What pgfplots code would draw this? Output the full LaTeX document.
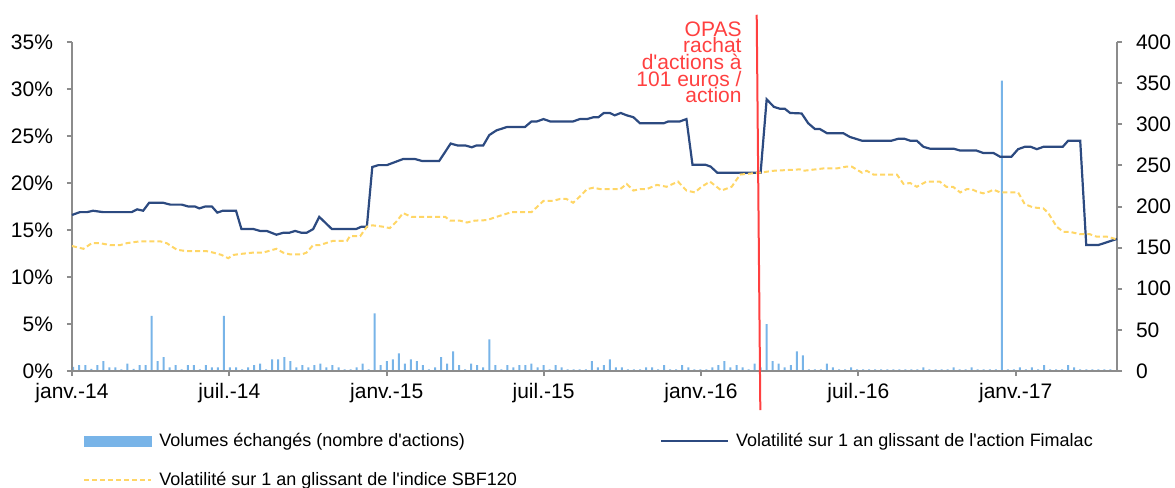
\documentclass[border=0pt]{standalone}
\usepackage{fontspec}
\setmainfont{Liberation Sans}
\usepackage{pgfplots}
\usepackage{pgfplotstable}
\pgfplotsset{compat=1.18}

\definecolor{barblue}{RGB}{120,180,232}
\definecolor{navy}{RGB}{44,74,128}
\definecolor{gold}{RGB}{255,214,102}
\definecolor{annred}{RGB}{255,64,64}
\definecolor{axisgray}{RGB}{140,140,140}

% volumes hebdomadaires (semaine, volume)
\pgfplotstableread[row sep=\\]{
w v\\ 0 5\\ 1 7\\ 2 7\\ 3 2.5\\ 4 7\\ 5 12\\ 6 4.5\\ 7 4.5\\ 8 2\\ 9 9\\
10 2.5\\ 11 7\\ 12 7\\ 13 67\\ 14 12\\ 15 17\\ 16 4.5\\ 17 7\\ 18 2\\ 19 7\\
20 7\\ 21 2\\ 22 7\\ 23 4.5\\ 24 4.5\\ 25 67\\ 26 4.5\\ 27 4.5\\ 28 2\\ 29 4.5\\
30 7\\ 31 9\\ 32 2\\ 33 14\\ 34 14\\ 35 17\\ 36 12\\ 37 4.5\\ 38 7\\ 39 4.5\\
40 7\\ 41 9\\ 42 4.5\\ 43 7\\ 44 4.5\\ 45 2\\ 46 2\\ 47 4.5\\ 48 9\\ 49 2\\
50 70\\ 51 7\\ 52 12\\ 53 14\\ 54 21.5\\ 55 9\\ 56 14\\ 57 12\\ 58 7\\ 59 2\\
60 4.5\\ 61 17\\ 62 9\\ 63 24\\ 64 7\\ 65 2\\ 66 9\\ 67 7\\ 68 4.5\\ 69 38.5\\
70 7\\ 71 2\\ 72 7\\ 73 4.5\\ 74 7\\ 75 7\\ 76 9\\ 77 4.5\\ 78 7\\ 79 2\\
80 7\\ 81 4.5\\ 82 2\\ 83 2\\ 84 2\\ 85 2\\ 86 12\\ 87 4.5\\ 88 7\\ 89 14\\
90 4.5\\ 91 4.5\\ 92 2\\ 93 2\\ 94 2\\ 95 4.5\\ 96 4.5\\ 97 2\\ 98 7\\ 99 2\\
100 2\\ 101 7\\ 102 4.5\\ 103 2\\ 104 2\\ 105 2\\ 106 4.5\\ 107 7\\ 108 12\\ 109 4.5\\
110 7\\ 111 4.5\\ 112 2\\ 113 9\\ 114 4.5\\ 115 57\\ 116 12\\ 117 9\\ 118 4.5\\ 119 7\\
120 24\\ 121 19\\ 122 2\\ 123 2\\ 124 2\\ 125 9\\ 126 4.5\\ 127 2\\ 128 2\\ 129 4.5\\
130 2\\ 131 2\\ 132 2\\ 133 2\\ 134 2\\ 135 2\\ 136 2\\ 137 2\\ 138 2\\ 139 2\\
140 2\\ 141 4.5\\ 142 2\\ 143 2\\ 144 2\\ 145 2\\ 146 4.5\\ 147 2\\ 148 2\\ 149 4.5\\
150 2\\ 151 2\\ 152 2\\ 153 2\\ 154 353\\ 155 2\\ 156 2\\ 157 4.5\\ 158 2\\ 159 4.5\\
160 2\\ 161 7\\ 162 2\\ 163 2\\ 164 2\\ 165 7\\ 166 4.5\\ 167 2\\ 168 2\\ 169 2\\
170 2\\ 171 2\\ 172 2\\
}\volumes

\begin{document}
\begin{tikzpicture}
\pgfplotsset{base/.style={
  width=522.5pt, height=164.5pt, scale only axis,
  xmin=0, xmax=173.3, at={(0,0)}, anchor=south west,
  tick align=outside, major tick length=2.5pt,
  tick style={axisgray, line width=1pt},
  axis line style={axisgray, line width=1pt},
  tick label style={font=\fontsize{10.5}{12}\selectfont},
}}

% axe de droite : volumes
\begin{axis}[base, name=vol,
  axis y line*=right, axis x line=none,
  ymin=0, ymax=400,
  ytick={0,50,100,150,200,250,300,350,400},
  yticklabels={0,50,100,150,200,250,300,350,400},
  yticklabel style={xshift=3.5pt},
]
\addplot[ybar, bar width=1pt, bar shift=0pt, fill=barblue, draw=none]
  table[x expr=\thisrow{w}+0.2, y=v] {\volumes};
\end{axis}

% axe de gauche : volatilites
\begin{axis}[base,
  axis y line*=left, axis x line*=bottom,
  ymin=0, ymax=35,
  ytick={0,5,10,15,20,25,30,35},
  yticklabels={0\%,5\%,10\%,15\%,20\%,25\%,30\%,35\%},
  yticklabel style={xshift=-3.5pt},
  xtick={0,26.1,52.2,78.2,104.3,130.4,156.5},
  xticklabels={janv.-14,juil.-14,janv.-15,juil.-15,janv.-16,juil.-16,janv.-17},
  clip=false,
  legend columns=2,
  legend cell align=left,
  legend style={at={(0.0105,-0.1854)}, anchor=north west, draw=none, fill=none,
    inner sep=0pt, font=\fontsize{9}{11}\selectfont,
    nodes={inner sep=0pt, text height=7pt, text depth=2pt},
    row sep=10.5pt,
    /tikz/every odd column/.append style={column sep=3.5pt},
    /tikz/every even column/.append style={column sep=71.5pt}},
]
\addlegendimage{legend image code/.code={\fill[barblue] (0pt,-2.5pt) rectangle (33.5pt,2.5pt);}}
\addlegendentry{Volumes échangés (nombre d\textquotesingle actions)}

\addplot[navy, line width=1.1pt,
  legend image code/.code={\draw[navy, line width=1.1pt] (0pt,0pt) -- (33.5pt,0pt);}]
coordinates {
(0,16.6) (1.3,16.9) (2.5,16.9) (3.5,17.05) (4.6,16.95) (5.2,16.9) (9.9,16.9)
(10.8,17.2) (11.8,17.05) (12.8,17.9) (15.1,17.9) (16.3,17.7) (18.2,17.7)
(19.3,17.5) (20.4,17.5) (21.1,17.3) (22.1,17.5) (23.2,17.5) (24.1,16.85)
(25.0,17.05) (27.2,17.05) (28.1,15.1) (30.1,15.1) (31.2,14.9) (32.3,14.9)
(33.9,14.5) (35.0,14.7) (36.0,14.7) (37.0,14.9) (38.1,14.7) (38.9,14.7)
(40.0,15.1) (41.0,16.4) (43.1,15.1) (47.1,15.1) (48.0,15.35) (48.9,15.35)
(49.8,21.7) (50.8,21.9) (52.2,21.9) (54.9,22.55) (56.9,22.55) (58.0,22.35)
(60.9,22.35) (62.8,24.2) (63.9,24.0) (65.2,24.0) (66.3,23.8) (67.1,24.0)
(68.2,24.0) (69.2,25.1) (70.4,25.6) (72.1,25.95) (75.1,25.95) (76.2,26.55)
(77.1,26.55) (78.2,26.8) (79.3,26.55) (83.1,26.55) (84.2,26.8) (85.4,26.8)
(86.5,27.0) (87.3,27.0) (88.2,27.45) (89.2,27.45) (90.0,27.2) (91.0,27.45)
(92.0,27.2) (93.1,27.0) (94.2,26.35) (98.1,26.35) (98.9,26.55) (100.8,26.55)
(101.9,26.8) (102.9,21.95) (105.0,21.95) (105.9,21.75) (107.0,21.1)
(114.2,21.1) (115.2,28.9) (116.4,28.1) (117.4,27.9) (118.2,27.9) (119.1,27.45)
(121.0,27.4) (122.1,26.35) (123.2,25.75) (124.0,25.75) (125.2,25.3)
(127.9,25.3) (129.0,24.9) (131.0,24.5) (135.9,24.5) (137.0,24.7) (138.1,24.7)
(139.0,24.5) (140.1,24.5) (141.2,23.85) (142.3,23.65) (146.2,23.65)
(147.3,23.45) (150.0,23.45) (151.1,23.2) (152.8,23.2) (153.9,22.8)
(155.8,22.8) (156.9,23.6) (158.0,23.85) (159.0,23.85) (160.0,23.6)
(161.1,23.85) (164.3,23.85) (165.2,24.5) (167.2,24.5) (168.2,13.4)
(170.2,13.4) (173.3,14.05)
};
\addlegendentry{Volatilité sur 1 an glissant de l\textquotesingle action Fimalac}

\addplot[gold, line width=1pt, dash pattern=on 2.5pt off 1.5pt,
  legend image code/.code={\draw[gold, line width=1pt, dash pattern=on 2.5pt off 1.5pt] (0pt,0pt) -- (33.5pt,0pt);}]
coordinates {
(0,13.3) (1.9,13.0) (3.3,13.6) (4.6,13.6) (6.3,13.4) (8.0,13.4) (9.1,13.6)
(11.3,13.8) (14.6,13.8) (15.7,13.6) (17.4,12.9) (19.0,12.75) (22.3,12.75)
(23.4,12.6) (24.8,12.35) (25.9,12.0) (26.8,12.35) (27.9,12.45) (30.1,12.6)
(31.7,12.6) (33.9,13.0) (35.0,12.6) (36.2,12.4) (38.1,12.4) (38.9,12.6)
(40.0,13.4) (41.1,13.4) (43.3,13.85) (45.6,13.85) (46.1,14.35) (47.8,14.35)
(48.9,15.35) (49.8,15.5) (51.6,15.35) (52.7,15.2) (53.8,15.9) (54.9,16.8)
(56.3,16.4) (61.9,16.4) (62.7,16.0) (64.3,16.0) (65.5,15.8) (66.8,16.0)
(68.8,16.05) (70.4,16.4) (72.9,16.9) (76.2,16.9) (78.2,18.1) (79.8,18.1)
(80.9,18.3) (82.0,18.3) (83.1,17.9) (84.2,18.55) (85.4,19.35) (86.5,19.5)
(87.6,19.35) (90.9,19.35) (92.0,19.9) (93.1,19.2) (94.2,19.35) (95.3,19.35)
(97.0,19.8) (98.6,19.6) (100.5,20.15) (101.9,19.2) (103.3,19.0) (104.4,19.6)
(105.8,20.15) (107.7,19.2) (109.4,19.6) (110.8,20.9) (114.1,21.1)
(116.3,21.3) (120.7,21.45) (121.3,21.3) (124.6,21.55) (126.8,21.55)
(128.5,21.75) (129.3,21.75) (131.0,21.1) (131.8,21.3) (132.9,20.9)
(136.8,20.9) (137.9,19.9) (139.0,20.0) (140.1,19.6) (141.7,20.15)
(143.9,20.15) (145.0,19.6) (146.1,19.6) (147.3,19.0) (148.4,19.35)
(149.2,19.35) (150.0,19.1) (151.1,18.9) (152.2,19.1) (152.8,19.3)
(153.9,19.0) (156.9,19.0) (158.0,17.75) (159.4,17.4) (161.1,17.3)
(161.9,16.8) (163.3,15.35) (164.4,14.8) (165.5,14.8) (167.2,14.55)
(168.8,14.55) (169.9,14.3) (171.6,14.3) (173.3,14.0)
};
\addlegendentry{Volatilité sur 1 an glissant de l\textquotesingle indice SBF120}

% OPAS : trait vertical
\addplot[annred, line width=1pt, forget plot] coordinates {(114.15,-4.15) (113.55,37.9)};
\node[anchor=north east, align=right, text=annred, inner sep=0pt,
  font=\fontsize{10.5}{8.3}\selectfont] at (axis cs:111.1,37.2)
  {OPAS\\rachat\\d\textquotesingle actions à\\101 euros /\\action};
\end{axis}

\pgfresetboundingbox
\path ([shift={(-36pt,-58.5pt)}]vol.south west) rectangle ++(587.5pt,244pt);
\end{tikzpicture}
\end{document}
